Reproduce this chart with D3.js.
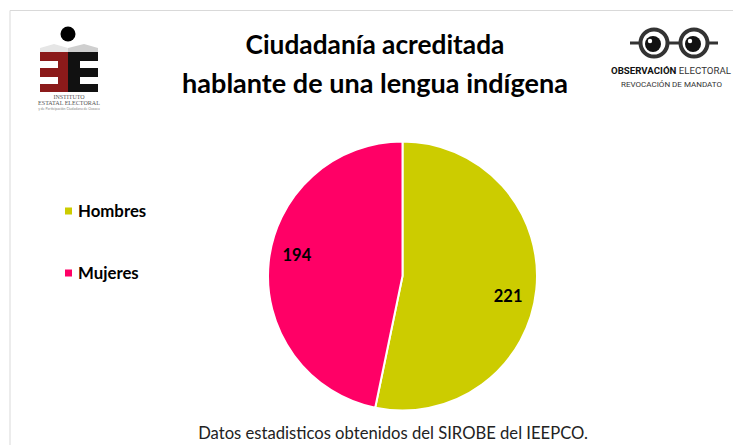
<!DOCTYPE html>
<html>
<head>
<meta charset="utf-8">
<script src="https://cdn.jsdelivr.net/npm/d3@7"></script>
<style>
  body { margin: 0; background: #fff; }
  svg { display: block; font-family: Lato, "Open Sans", sans-serif; }
</style>
</head>
<body>
<div id="chart"></div>
<script>
  var categories = ['Hombres', 'Mujeres'];
  var values = [221, 194];
  var colors = ['#cccc00', '#ff0066'];
  var titleLines = ['Ciudadanía acreditada', 'hablante de una lengua indígena'];
  var footer = 'Datos estadisticos obtenidos del SIROBE del IEEPCO.';

  var width = 733, height = 445;

  var svg = d3.select('#chart')
    .append('svg')
    .attr('width', width)
    .attr('height', height);

  // light frame of the slide
  svg.append('path')
    .attr('d', 'M10,' + height + 'V10.5H' + width)
    .attr('fill', 'none')
    .attr('stroke', '#d9d9d9')
    .attr('stroke-width', 1);

  // fit text to a measured width
  function fit(sel, w) {
    var fs = parseFloat(sel.attr('font-size'));
    var len = sel.node().getComputedTextLength();
    sel.attr('font-size', fs * w / len);
  }

  // title
  var titleBase = [54, 93], titleW = [259, 386];
  titleLines.forEach(function(t, i) {
    var tx = svg.append('text')
      .attr('x', 375)
      .attr('y', titleBase[i])
      .attr('text-anchor', 'middle')
      .attr('font-weight', 'bold')
      .attr('font-size', 26)
      .attr('fill', '#000')
      .text(t);
    fit(tx, titleW[i]);
  });

  // left logo (IEE)
  var logo = svg.append('g');
  logo.append('circle').attr('cx', 68).attr('cy', 34).attr('r', 7.5).attr('fill', '#000');
  logo.append('path').attr('d', 'M40,48 L54,44 L68,48 L68,52 L40,52 Z').attr('fill', '#e6e6e6');
  logo.append('path').attr('d', 'M68,48 L84,44 L98,48 L98,52 L68,52 Z').attr('fill', '#cfcfcf');
  logo.append('path')
    .attr('d', 'M40,52 H68 V92 H40 V84 H58 V77 H40 V68 H58 V61 H40 Z')
    .attr('fill', '#8b1a1a');
  logo.append('path')
    .attr('d', 'M68,52 H98 V61 H80 V68 H98 V77 H80 V84 H98 V92 H68 Z')
    .attr('fill', '#111');
  logo.append('text').attr('x', 69).attr('y', 99).attr('text-anchor', 'middle')
    .attr('font-family', 'Liberation Serif, serif').attr('font-size', 6).attr('fill', '#555')
    .text('INSTITUTO');
  var lt2 = logo.append('text').attr('x', 69).attr('y', 105).attr('text-anchor', 'middle')
    .attr('font-family', 'Liberation Serif, serif').attr('font-size', 6).attr('fill', '#555')
    .text('ESTATAL ELECTORAL');
  fit(lt2, 62);
  var lt3 = logo.append('text').attr('x', 69).attr('y', 110).attr('text-anchor', 'middle')
    .attr('font-size', 3).attr('fill', '#888')
    .text('y de Participación Ciudadana de Oaxaca');
  fit(lt3, 62);

  // right logo (glasses)
  var gl = svg.append('g');
  gl.append('line').attr('x1', 630).attr('x2', 718).attr('y1', 43).attr('y2', 43)
    .attr('stroke', '#333').attr('stroke-width', 3);
  [654, 694].forEach(function(cx) {
    gl.append('circle').attr('cx', cx).attr('cy', 43).attr('r', 13.5)
      .attr('fill', '#fff').attr('stroke', '#333').attr('stroke-width', 4);
    gl.append('circle').attr('cx', cx - 1).attr('cy', 44).attr('r', 8).attr('fill', '#111');
    gl.append('circle').attr('cx', cx - 4).attr('cy', 41).attr('r', 2.2).attr('fill', '#fff');
  });
  var ob = gl.append('text').attr('x', 611).attr('y', 74)
    .attr('font-family', 'Roboto, sans-serif').attr('font-weight', 'bold').attr('font-size', 9.2)
    .attr('fill', '#111');
  ob.append('tspan').text('OBSERVACIÓN ');
  ob.append('tspan').attr('fill', '#333').attr('font-weight', 'normal').text('ELECTORAL');
  ob.attr('textLength', 120).attr('lengthAdjust', 'spacingAndGlyphs');
  gl.append('text').attr('x', 621).attr('y', 87)
    .attr('font-family', 'Roboto, sans-serif').attr('font-size', 8).attr('fill', '#333')
    .attr('textLength', 101).attr('lengthAdjust', 'spacingAndGlyphs')
    .text('REVOCACIÓN DE MANDATO');

  // pie
  var cx = 402.5, cy = 276, r = 134.5;
  var pie = d3.pie().sort(null).value(function(d) { return d; });
  var arcs = pie(values);
  var arc = d3.arc().innerRadius(0).outerRadius(r);
  var g = svg.append('g').attr('transform', 'translate(' + cx + ',' + cy + ')');

  g.selectAll('.slice')
    .data(arcs)
    .enter().append('path')
    .attr('class', 'slice')
    .attr('d', arc)
    .attr('fill', function(d, i) { return colors[i]; })
    .attr('stroke', '#fff')
    .attr('stroke-width', 2)
    .attr('stroke-linejoin', 'round');

  // data labels, slightly turned like the original best-fit placement
  var labelArc = d3.arc().innerRadius(r * 0.8).outerRadius(r * 0.8);
  g.selectAll('.lbl')
    .data(arcs)
    .enter().append('text')
    .attr('class', 'lbl')
    .attr('transform', function(d) {
      var a = { startAngle: d.startAngle + 0.09, endAngle: d.endAngle + 0.09 };
      return 'translate(' + labelArc.centroid(a) + ')';
    })
    .attr('text-anchor', 'middle')
    .attr('dy', '0.35em')
    .attr('font-weight', 'bold')
    .attr('font-size', 16.5)
    .text(function(d) { return d.data; });

  // legend
  var ly = d3.scalePoint().domain(categories).range([211, 273]);
  var leg = svg.selectAll('.leg')
    .data(categories)
    .enter().append('g')
    .attr('class', 'leg')
    .attr('transform', function(d) { return 'translate(65,' + ly(d) + ')'; });
  leg.append('rect')
    .attr('x', 0).attr('y', -3.5).attr('width', 7).attr('height', 7)
    .attr('fill', function(d, i) { return colors[i]; });
  leg.append('text')
    .attr('x', 13)
    .attr('dy', '0.35em')
    .attr('font-weight', 'bold')
    .attr('font-size', 16.8)
    .text(function(d) { return d; });

  // footer
  var ft = svg.append('text')
    .attr('x', 393)
    .attr('y', 439)
    .attr('text-anchor', 'middle')
    .attr('font-size', 16)
    .attr('fill', '#222')
    .text(footer);
  fit(ft, 390);
</script>
</body>
</html>
